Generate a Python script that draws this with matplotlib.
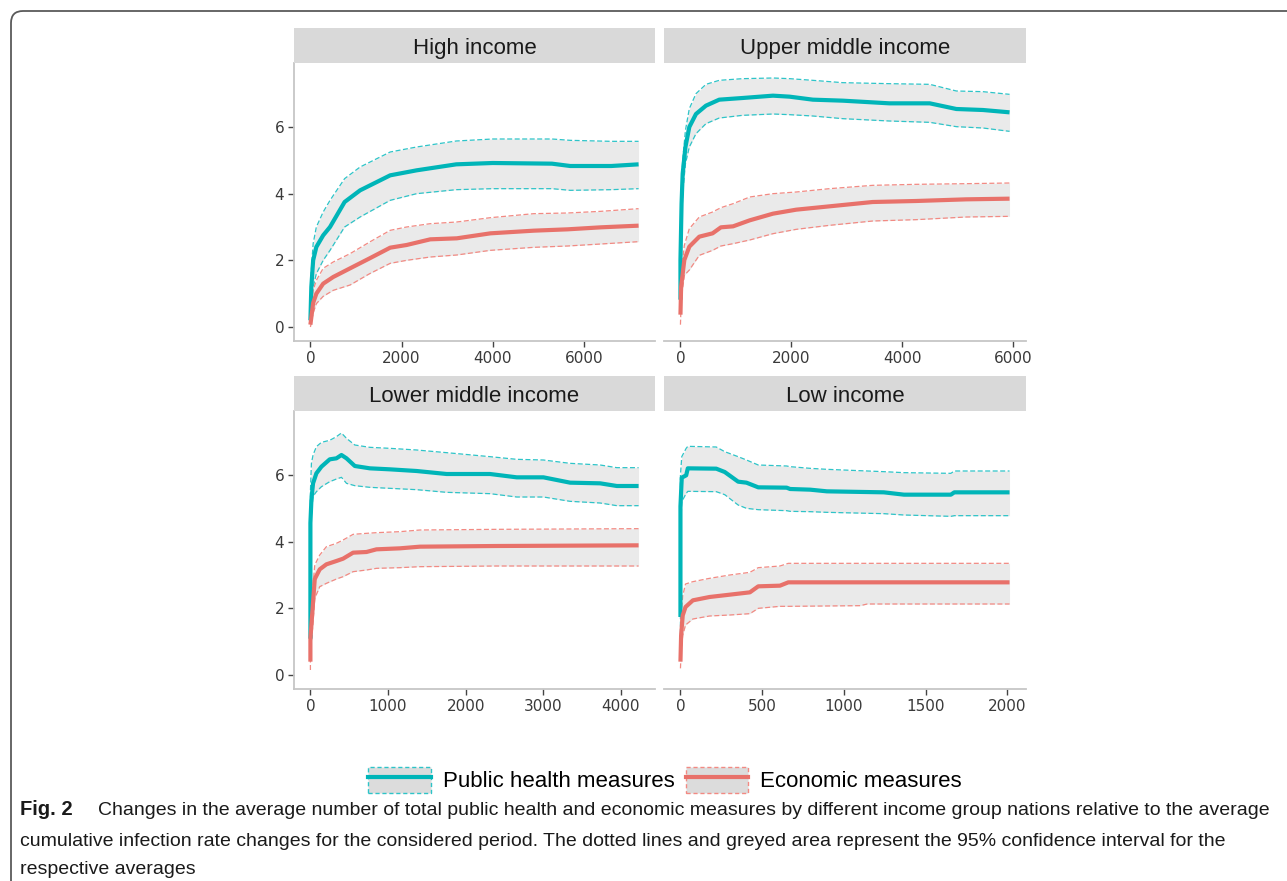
import matplotlib.pyplot as plt
import numpy as np
from matplotlib.patches import Patch, FancyBboxPatch
from matplotlib.lines import Line2D
from matplotlib.transforms import IdentityTransform

# colours
TEAL = '#00B5B8'
TEAL_CI = '#2EC4C8'
RED = '#E8716A'
RED_CI = '#F28A83'
RIBBON = '#EAEAEA'

# High income
hi_ph_x = [0, 20, 60, 130, 280, 430, 750, 1090, 1750, 2330, 3200, 4000, 5300, 5700, 6600, 7200]
hi_ph = [0.2, 1.2, 2.0, 2.4, 2.75, 3.0, 3.75, 4.1, 4.55, 4.7, 4.88, 4.92, 4.9, 4.83, 4.83, 4.88]
hi_ph_up = [0.6, 1.7, 2.5, 3.0, 3.45, 3.8, 4.45, 4.8, 5.25, 5.4, 5.58, 5.64, 5.64, 5.6, 5.57, 5.57]
hi_ph_lo = [0.1, 0.7, 1.2, 1.6, 2.0, 2.3, 3.0, 3.3, 3.8, 4.0, 4.12, 4.15, 4.15, 4.1, 4.12, 4.15]
hi_ec_x = [0, 60, 130, 280, 500, 870, 1300, 1750, 2110, 2630, 3210, 3950, 4900, 5640, 6370, 7200]
hi_ec = [0.07, 0.72, 1.0, 1.3, 1.5, 1.76, 2.06, 2.38, 2.46, 2.63, 2.66, 2.81, 2.89, 2.93, 2.99, 3.04]
hi_ec_up = [0.3, 1.1, 1.4, 1.76, 1.95, 2.2, 2.55, 2.9, 3.0, 3.1, 3.15, 3.28, 3.4, 3.42, 3.47, 3.55]
hi_ec_lo = [0.0, 0.42, 0.7, 0.92, 1.1, 1.26, 1.6, 1.91, 2.0, 2.1, 2.16, 2.3, 2.39, 2.43, 2.49, 2.56]

# Upper middle income
um_ph_x = [0, 0, 20, 40, 90, 160, 280, 460, 700, 1120, 1670, 1970, 2390, 2930, 3770, 4500, 4980, 5460, 5940]
um_ph = [0.82, 2.0, 3.7, 4.6, 5.4, 6.0, 6.39, 6.64, 6.82, 6.87, 6.94, 6.91, 6.82, 6.79, 6.71, 6.71, 6.54, 6.51, 6.44]
um_ph_up = [1.2, 2.6, 4.3, 5.0, 5.9, 6.55, 7.0, 7.28, 7.4, 7.45, 7.47, 7.45, 7.4, 7.33, 7.3, 7.28, 7.08, 7.06, 6.98]
um_ph_lo = [0.5, 1.4, 3.0, 4.0, 4.9, 5.4, 5.8, 6.1, 6.27, 6.35, 6.39, 6.37, 6.33, 6.25, 6.18, 6.14, 6.01, 5.97, 5.87]
um_ec_x = [0, 12, 70, 160, 340, 580, 730, 950, 1250, 1670, 2090, 2690, 3470, 4250, 5160, 5940]
um_ec = [0.37, 1.21, 2.01, 2.41, 2.71, 2.81, 2.99, 3.02, 3.2, 3.4, 3.52, 3.62, 3.75, 3.78, 3.83, 3.85]
um_ec_up = [0.8, 1.61, 2.45, 2.95, 3.3, 3.45, 3.58, 3.7, 3.9, 4.0, 4.05, 4.15, 4.25, 4.28, 4.3, 4.32]
um_ec_lo = [0.07, 0.8, 1.55, 1.71, 2.15, 2.3, 2.43, 2.5, 2.61, 2.8, 2.93, 3.05, 3.18, 3.22, 3.3, 3.32]

# Lower middle income
lm_ph_x = [0, 0, 13, 34, 77, 142, 249, 335, 400, 465, 572, 766, 1024, 1368, 1755, 2314, 2658, 3002, 3346, 3733, 3948, 4228]
lm_ph = [1.09, 4.56, 5.26, 5.75, 6.05, 6.25, 6.47, 6.5, 6.6, 6.5, 6.27, 6.2, 6.17, 6.12, 6.03, 6.03, 5.93, 5.93, 5.77, 5.75, 5.67, 5.67]
lm_ph_up = [1.5, 5.5, 6.35, 6.6, 6.85, 6.98, 7.04, 7.15, 7.26, 7.1, 6.9, 6.83, 6.8, 6.75, 6.67, 6.55, 6.47, 6.45, 6.35, 6.3, 6.22, 6.22]
lm_ph_lo = [0.7, 3.6, 4.8, 5.36, 5.5, 5.65, 5.8, 5.88, 5.93, 5.75, 5.68, 5.63, 5.6, 5.56, 5.48, 5.44, 5.34, 5.34, 5.21, 5.16, 5.08, 5.08]
lm_ec_x = [0, 0, 34, 56, 120, 206, 335, 421, 550, 722, 851, 1153, 1411, 2400, 4228]
lm_ec = [0.4, 1.09, 2.18, 2.88, 3.17, 3.32, 3.42, 3.49, 3.67, 3.69, 3.77, 3.8, 3.85, 3.87, 3.89]
lm_ec_up = [0.9, 1.6, 2.7, 3.3, 3.6, 3.85, 3.95, 4.05, 4.22, 4.25, 4.27, 4.3, 4.35, 4.37, 4.39]
lm_ec_lo = [0.15, 0.6, 1.59, 2.3, 2.65, 2.75, 2.88, 2.95, 3.1, 3.15, 3.2, 3.22, 3.25, 3.27, 3.27]

# Low income
lo_ph_x = [0, 0, 8, 35, 45, 219, 271, 353, 404, 476, 650, 671, 794, 896, 1245, 1368, 1655, 1676, 2014]
lo_ph = [1.74, 5.06, 5.92, 5.99, 6.2, 6.19, 6.09, 5.8, 5.77, 5.63, 5.62, 5.58, 5.56, 5.51, 5.48, 5.41, 5.41, 5.48, 5.48]
lo_ph_up = [2.7, 6.0, 6.55, 6.8, 6.86, 6.84, 6.7, 6.55, 6.45, 6.3, 6.27, 6.25, 6.2, 6.17, 6.1, 6.07, 6.05, 6.12, 6.12]
lo_ph_lo = [1.0, 4.2, 5.2, 5.45, 5.51, 5.5, 5.41, 5.1, 5.0, 4.96, 4.93, 4.91, 4.9, 4.88, 4.84, 4.8, 4.76, 4.78, 4.78]
lo_ec_x = [0, 4, 14, 31, 76, 178, 302, 425, 476, 609, 660, 1100, 1143, 2014]
lo_ec = [0.4, 1.19, 1.79, 2.04, 2.24, 2.34, 2.41, 2.48, 2.66, 2.68, 2.78, 2.78, 2.78, 2.78]
lo_ec_up = [0.9, 1.8, 2.38, 2.73, 2.8, 2.9, 3.0, 3.08, 3.22, 3.27, 3.35, 3.35, 3.35, 3.35]
lo_ec_lo = [0.2, 0.7, 1.19, 1.5, 1.68, 1.77, 1.8, 1.84, 2.0, 2.06, 2.06, 2.08, 2.13, 2.13]

titles = ['High income', 'Upper middle income', 'Lower middle income', 'Low income']
xticks = [[0, 2000, 4000, 6000], [0, 2000, 4000, 6000],
          [0, 1000, 2000, 3000, 4000], [0, 500, 1000, 1500, 2000]]
yticks = [0, 2, 4, 6]

panels = [
    (hi_ph_x, hi_ph, hi_ph_lo, hi_ph_up, hi_ec_x, hi_ec, hi_ec_lo, hi_ec_up),
    (um_ph_x, um_ph, um_ph_lo, um_ph_up, um_ec_x, um_ec, um_ec_lo, um_ec_up),
    (lm_ph_x, lm_ph, lm_ph_lo, lm_ph_up, lm_ec_x, lm_ec, lm_ec_lo, lm_ec_up),
    (lo_ph_x, lo_ph, lo_ph_lo, lo_ph_up, lo_ec_x, lo_ec, lo_ec_lo, lo_ec_up),
]

W, H = 1287, 881
fig = plt.figure(figsize=(W / 100, H / 100), dpi=100)

# panel boxes in pixels: left, top, right, bottom
boxes = [(294, 63, 655, 341), (664, 63, 1026, 341),
         (294, 411, 655, 689), (664, 411, 1026, 689)]
strip_h = 35


def fbox(l, t, r, b):
    return [l / W, 1 - b / H, (r - l) / W, (b - t) / H]


def draw_series(ax, x, m, lo, up, col, cicol):
    ax.fill_between(x, lo, up, color=RIBBON, lw=0, zorder=1)
    ax.plot(x, up, color=cicol, lw=0.9, ls=(0, (4, 2)), zorder=2)
    ax.plot(x, lo, color=cicol, lw=0.9, ls=(0, (4, 2)), zorder=2)
    ax.plot(x, m, color=col, lw=3.0, zorder=3, solid_capstyle='butt')


for i, (l, t, r, b) in enumerate(boxes):
    ax = fig.add_axes(fbox(l, t, r, b))
    ph_x, ph, ph_lo, ph_up, ec_x, ec, ec_lo, ec_up = panels[i]
    draw_series(ax, ph_x, ph, ph_lo, ph_up, TEAL, TEAL_CI)
    draw_series(ax, ec_x, ec, ec_lo, ec_up, RED, RED_CI)

    xmax = max(max(ph_x), max(ec_x))
    ax.set_xlim(-0.05 * xmax, 1.05 * xmax)
    ax.set_ylim(-0.42, 7.92)
    ax.set_xticks(xticks[i])
    ax.set_yticks(yticks)
    for s in ['top', 'right']:
        ax.spines[s].set_visible(False)
    ax.spines['bottom'].set_color('#C6C6C6')
    ax.spines['bottom'].set_linewidth(1.3)
    if i % 2 == 0:
        ax.spines['left'].set_color('#C6C6C6')
        ax.spines['left'].set_linewidth(1.3)
        ax.tick_params(axis='y', length=4, width=1, color='#444444',
                       labelsize=11, labelcolor='#3A3A3A', pad=3)
    else:
        ax.spines['left'].set_visible(False)
        ax.tick_params(axis='y', left=False, labelleft=False)
    ax.tick_params(axis='x', length=4, width=1, color='#444444',
                   labelsize=11, labelcolor='#3A3A3A', pad=3)
    ax.set_facecolor('white')

    # facet strip
    sax = fig.add_axes(fbox(l, t - strip_h, r, t))
    sax.set_facecolor('#D9D9D9')
    sax.set_xticks([])
    sax.set_yticks([])
    for s in sax.spines.values():
        s.set_visible(False)
    sax.text(0.5, 0.42, titles[i], ha='center', va='center', fontsize=16,
             color='#1A1A1A', family='Liberation Sans', transform=sax.transAxes)

# legend
ph_key = (Patch(facecolor='#DCDCDC', edgecolor=TEAL_CI, ls=(0, (3, 2)), lw=1.0),
          Line2D([], [], color=TEAL, lw=3.0))
ec_key = (Patch(facecolor='#DCDCDC', edgecolor=RED_CI, ls=(0, (3, 2)), lw=1.0),
          Line2D([], [], color=RED, lw=3.0))
fig.legend([ph_key, ec_key], ['Public health measures', 'Economic measures'],
           loc='center', bbox_to_anchor=(665 / W, 1 - 780 / H), ncol=2, frameon=False,
           prop={'family': 'Liberation Sans', 'size': 16}, handlelength=2.8,
           handleheight=1.4, handletextpad=0.55, columnspacing=0.5, borderpad=0)

# caption
cap_font = ['Liberation Sans Narrow', 'Liberation Sans', 'DejaVu Sans']
lines = [
    'Changes in the average number of total public health and economic measures by different income group nations relative to the average',
    'cumulative infection rate changes for the considered period. The dotted lines and greyed area represent the 95% confidence interval for the',
    'respective averages',
]
fig.text(20 / W, 1 - 815 / H, 'Fig. 2', fontsize=14.5, fontweight='bold',
         family=cap_font, color='#1A1A1A', va='baseline')
fig.text(98 / W, 1 - 815 / H, lines[0], fontsize=14, family=cap_font,
         color='#1A1A1A', va='baseline')
fig.text(20 / W, 1 - 846 / H, lines[1], fontsize=14, family=cap_font,
         color='#1A1A1A', va='baseline')
fig.text(20 / W, 1 - 874 / H, lines[2], fontsize=14, family=cap_font,
         color='#1A1A1A', va='baseline')

# rounded border around the figure
frame = FancyBboxPatch((11, -200), 1500, H - 11 + 200,
                       boxstyle='round,pad=0,rounding_size=12',
                       transform=IdentityTransform(), fill=False,
                       edgecolor='#5A5A5A', lw=1.3)
fig.patches.append(frame)

fig.savefig('out.png', dpi=100)
